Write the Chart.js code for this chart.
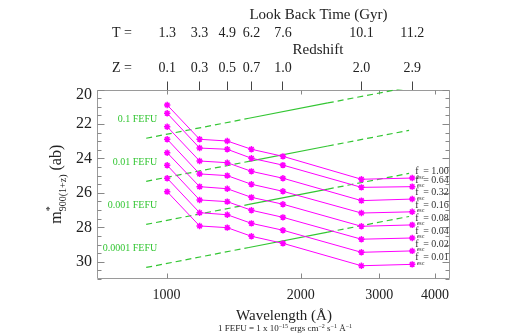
<!DOCTYPE html>
<html><head><meta charset="utf-8">
<script src="https://cdn.jsdelivr.net/npm/chart.js@4.4.0/dist/chart.umd.min.js"></script>
<style>html,body{margin:0;padding:0;background:#fff}#wrap{width:509px;height:335px}</style>
</head><body><div id="wrap"><canvas id="c" width="509" height="335"></canvas></div>
<script>
// ---- data ----
const wavelengths = [1003, 1186, 1368, 1550, 1824, 2736, 3557];
const redshiftLabels = ['0.1', '0.3', '0.5', '0.7', '1.0', '2.0', '2.9'];
const lookBackLabels = ['1.3', '3.3', '4.9', '6.2', '7.6', '10.1', '11.2'];
const wavelengthTicks = [1000, 2000, 3000, 4000];
const magTicks = [20, 22, 24, 26, 28, 30];

const fescLabels = ['1.00', '0.64', '0.32', '0.16', '0.08', '0.04', '0.02', '0.01'];
const fesc100 = [20.90, 22.89, 22.99, 23.47, 23.88, 25.21, 25.14];
const fesc064 = [21.38, 23.40, 23.47, 23.99, 24.39, 25.68, 25.64];
const fesc032 = [22.16, 24.15, 24.25, 24.75, 25.15, 26.45, 26.36];
const fesc016 = [22.89, 24.90, 25.00, 25.50, 25.91, 27.17, 27.10];
const fesc008 = [23.67, 25.64, 25.76, 26.26, 26.66, 27.94, 27.86];
const fesc004 = [24.40, 26.41, 26.51, 27.01, 27.42, 28.69, 28.62];
const fesc002 = [25.15, 27.15, 27.27, 27.77, 28.17, 29.45, 29.37];
const fesc001 = [25.93, 27.92, 28.02, 28.52, 28.93, 30.23, 30.15];

const fefuWavelengths = [900, 1530, 2300, 3500];
const fefuLabels = ['0.1 FEFU', '0.01 FEFU', '0.001 FEFU', '0.0001 FEFU'];
const fefu1e1 = [22.83, 21.67, 20.78, 19.87];
const fefu1e2 = [25.33, 24.17, 23.28, 22.37];
const fefu1e3 = [27.83, 26.67, 25.78, 24.87];
const fefu1e4 = [30.33, 29.17, 28.28, 27.37];

// ---- styling ----
const SERIF = '"Liberation Serif","Times New Roman",Times,serif';
const MAGENTA = '#ff00ff';
const GREEN = '#33c633';
const TEXT = '#222';

const fescSeries = [fesc100, fesc064, fesc032, fesc016, fesc008, fesc004, fesc002, fesc001];
const fefuSeries = [fefu1e1, fefu1e2, fefu1e3, fefu1e4];

const datasets = [];
fescSeries.forEach((vals, i) => {
  datasets.push({
    label: 'f_esc = ' + fescLabels[i],
    data: wavelengths.map((w, k) => ({x: w, y: vals[k]})),
    borderColor: MAGENTA, borderWidth: 1,
    pointStyle: 'star', pointRadius: 3.2, pointBorderWidth: 1.5,
    pointBorderColor: MAGENTA, pointBackgroundColor: MAGENTA,
    order: 0, xAxisID: 'x', yAxisID: 'y'
  });
});
fefuSeries.forEach((vals, i) => {
  datasets.push({
    label: fefuLabels[i],
    data: fefuWavelengths.map((w, k) => ({x: w, y: vals[k]})),
    borderColor: GREEN, borderWidth: 1.2, pointRadius: 0, borderDash: [],
    segment: { borderDash: ctx => ctx.p0DataIndex === 1 ? undefined : [6, 4] },
    order: 1, xAxisID: 'x', yAxisID: 'y'
  });
});

function drawRich(ctx, parts, x, y) {
  let total = 0;
  const widths = parts.map(p => { ctx.font = p[1] + 'px ' + SERIF; const w = ctx.measureText(p[0]).width; total += w; return w; });
  let cx = x - total / 2;
  parts.forEach((p, i) => {
    ctx.font = p[1] + 'px ' + SERIF;
    ctx.fillText(p[0], cx, y + p[2]);
    cx += widths[i];
  });
}

const annot = {
  id: 'annot',
  beforeDatasetsDraw(chart) {
    const {ctx, chartArea: a, scales} = chart;
    ctx.save();
    const L = Math.round(a.left) + 0.5, R = Math.round(a.right) - 0.5;
    const T = Math.round(a.top) + 0.5, B = Math.round(a.bottom) - 0.5;
    ctx.strokeStyle = '#9a9a9a'; ctx.lineWidth = 1;
    ctx.beginPath();
    ctx.rect(L, T, R - L, B - T);
    ctx.stroke();
    ctx.strokeStyle = '#888';
    ctx.beginPath();
    for (let v = 20; v <= 31.001; v += 0.5) {
      const y = Math.round(scales.y.getPixelForValue(v)) + 0.5;
      const len = (Math.abs(v % 2) < 1e-6) ? 7 : 4;
      ctx.moveTo(L, y); ctx.lineTo(L + len, y);
      ctx.moveTo(R, y); ctx.lineTo(R - len, y);
    }
    wavelengthTicks.forEach(w => {
      const x = Math.round(scales.x.getPixelForValue(w)) + 0.5;
      ctx.moveTo(x, B); ctx.lineTo(x, B - 5);
      ctx.moveTo(x, T); ctx.lineTo(x, T + 4);
    });
    ctx.stroke();
    ctx.beginPath();
    ctx.restore();
  },
  afterDraw(chart) {
    const {ctx, chartArea: a} = chart;
    ctx.save();
    ctx.fillStyle = TEXT;
    ctx.textBaseline = 'middle';
    ctx.textAlign = 'center';
    ctx.font = '15px ' + SERIF;
    ctx.fillText('Look Back Time (Gyr)', 318.5, 15);
    ctx.fillText('Redshift', 318, 50.5);
    ctx.textAlign = 'left';
    ctx.font = '14px ' + SERIF;
    ctx.fillText('T =', 112, 33.5);
    ctx.fillText('Z =', 112, 68.3);
    ctx.textAlign = 'center';
    ctx.font = '15px ' + SERIF;
    ctx.fillText('Wavelength (\u00C5)', 284, 316.5);
    ctx.textAlign = 'left';
    ctx.textBaseline = 'alphabetic';
    drawRich(ctx, [['1 FEFU = 1 x 10', 9, 0], ['\u221215', 6, -3.5], [' ergs cm', 9, 0], ['\u22122', 6, -3.5],
      [' s', 9, 0], ['\u22121', 6, -3.5], [' \u00C5', 9, 0], ['\u22121', 6, -3.5]], 285, 331);
    ctx.save();
    ctx.translate(61, (a.top + a.bottom) / 2);
    ctx.rotate(-Math.PI / 2);
    ctx.font = '16px ' + SERIF; const wm = ctx.measureText('m').width; const wab = ctx.measureText(' (ab)').width;
    ctx.font = '10px ' + SERIF; const wsub = ctx.measureText('900(1+z)').width;
    const x0 = -(wm + wsub + wab) / 2;
    ctx.font = '16px ' + SERIF; ctx.fillText('m', x0, 0);
    ctx.font = '10px ' + SERIF; ctx.fillText('*', x0 + wm, -8);
    ctx.fillText('900(1+z)', x0 + wm, 5);
    ctx.font = '16px ' + SERIF; ctx.fillText(' (ab)', x0 + wm + wsub, 0);
    ctx.restore();
    ctx.fillStyle = '#333';
    fescSeries.forEach((s, i) => {
      const pts = chart.getDatasetMeta(i).data;
      const p = pts[pts.length - 1];
      ctx.font = '10px ' + SERIF; ctx.fillText('f', p.x + 3, p.y - 4);
      ctx.font = '6px ' + SERIF; ctx.fillText('esc', p.x + 4.5, p.y + 0.5);
      ctx.font = '10px ' + SERIF; ctx.fillText('= ' + fescLabels[i], p.x + 11, p.y - 4);
    });
    ctx.fillStyle = GREEN;
    ctx.textAlign = 'right';
    ctx.textBaseline = 'middle';
    ctx.font = '10px ' + SERIF;
    fefuSeries.forEach((s, j) => {
      const p = chart.getDatasetMeta(fescSeries.length + j).data[0];
      ctx.fillText(fefuLabels[j], p.x + 11, p.y - 19);
    });
    ctx.restore();
  }
};

const tickFont = {family: SERIF, size: 14};

new Chart(document.getElementById('c'), {
  type: 'line',
  data: { datasets },
  plugins: [annot],
  options: {
    responsive: false, animation: false, devicePixelRatio: 1,
    events: [],
    layout: { padding: { left: 0, right: 59, top: 0, bottom: 0 } },
    plugins: { legend: { display: false }, tooltip: { enabled: false }, title: { display: false } },
    scales: {
      x: {
        type: 'logarithmic', position: 'bottom', min: 698, max: 4324,
        grid: { display: false, drawTicks: false }, border: { display: false },
        afterBuildTicks: s => { s.ticks = wavelengthTicks.map(v => ({value: v})); },
        afterFit: s => { s.height = 56; },
        ticks: { autoSkip: false, maxRotation: 0, padding: 8, color: TEXT, font: tickFont,
          callback: v => String(v) }
      },
      xz: {
        type: 'logarithmic', position: 'top', weight: 0, min: 698, max: 4324,
        grid: { display: true, drawOnChartArea: false, drawTicks: true, tickLength: 8, color: '#444' },
        border: { display: false },
        afterBuildTicks: s => { s.ticks = wavelengths.map(v => ({value: v})); },
        afterFit: s => { s.height = 47.5; },
        ticks: { autoSkip: false, maxRotation: 0, padding: 5, color: TEXT, font: tickFont,
          callback: (v, i) => redshiftLabels[i] }
      },
      xt: {
        type: 'logarithmic', position: 'top', weight: 1, min: 698, max: 4324,
        grid: { display: false, drawTicks: false }, border: { display: false },
        afterBuildTicks: s => { s.ticks = wavelengths.map(v => ({value: v})); },
        afterFit: s => { s.height = 42; },
        ticks: { autoSkip: false, maxRotation: 0, padding: 0, color: TEXT, font: tickFont,
          callback: (v, i) => lookBackLabels[i] }
      },
      y: {
        type: 'linear', position: 'left', reverse: true, min: 20, max: 31,
        grid: { display: false, drawTicks: false }, border: { display: false },
        afterBuildTicks: s => { s.ticks = magTicks.map(v => ({value: v})); },
        afterFit: s => { s.width = 97; },
        ticks: { padding: 5, color: TEXT,
          font: ctx => ({family: SERIF, size: 16, lineHeight: (ctx.tick && ctx.tick.value === 20) ? '11px' : 1.2}),
          callback: v => v === 20 ? ['', '20'] : String(v) }
      }
    }
  }
});
</script></body></html>
